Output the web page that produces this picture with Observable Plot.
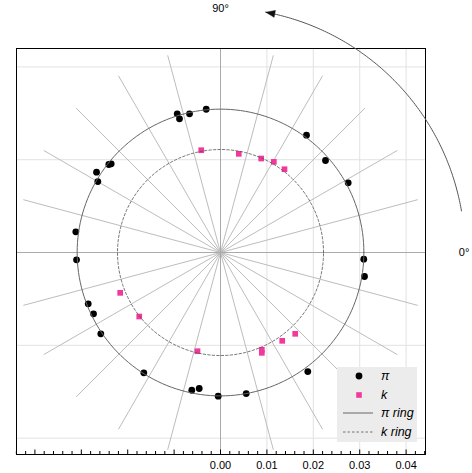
<!DOCTYPE html>
<html><head><meta charset="utf-8">
<script src="https://cdn.jsdelivr.net/npm/d3@7"></script>
<script src="https://cdn.jsdelivr.net/npm/@observablehq/plot@0.6"></script>
<style>
body{margin:0;background:#fff;}
#wrap{position:relative;width:472px;height:473px;}
#legend{position:absolute;left:337px;top:367px;width:80px;height:75px;background:#ececec;}
#legend svg{display:block;}
#legend text{font-family:"Liberation Sans",Arial,sans-serif;font-size:12.5px;font-style:italic;fill:#000;}
</style>
</head><body><div id="wrap"><div id="chart"></div><div id="legend"></div></div>
<script>
// π points (x, y)
const piX = [-0.00933,-0.00884,-0.00668,-0.00308,0.01853,0.02263,0.02752,-0.02407,-0.02356,-0.02672,-0.02644,-0.03119,-0.03103,-0.02851,-0.02737,-0.02580,-0.01653,-0.00619,-0.00459,-0.00050,0.00554,0.01881,0.03088,0.03103];
const piY = [0.02989,0.02881,0.02989,0.03088,0.02528,0.01983,0.01502,0.01897,0.01912,0.01731,0.01530,0.00446,-0.00157,-0.01106,-0.01321,-0.01752,-0.02593,-0.02968,-0.02931,-0.03097,-0.03039,-0.02565,-0.00144,-0.00517];
// k points (x, y)
const kX = [-0.00416,0.00394,0.00877,0.01149,0.01379,-0.02162,-0.01752,-0.00496,0.00890,0.00890,0.01330,0.01610];
const kY = [0.02205,0.02127,0.02026,0.01955,0.01795,-0.00869,-0.01379,-0.02127,-0.02097,-0.02162,-0.01903,-0.01752];
// rings
const piRing = 0.0309;
const kRing = 0.0222;
// spokes (degrees)
const spokeAngles = [15,30,45,60,75,105,120,135,150,165,195,210,225,240,255,285,300,315,330,345];
const spokeLength = 0.044;
// axes / grid
const xTickLabels = [0, 0.01, 0.02, 0.03, 0.04];
const xGrid = [0.01, 0.02, 0.03, 0.04];
const yGrid = [-0.04, -0.02, 0.02, 0.04];
const minorTicks = d3.range(-22, 23).map(i => +(i * 0.002).toFixed(3));
// direction arrow & labels
const arcDeg = [9.8, 79.3];
const arcRadius = 0.0527;
const angleLabelDeg = [0, 90];
const angleLabelText = ["0°", "90°"];
const angleLabelRadius = 0.0525;

const W = 472, H = 473;
const mL = 16, mR = 47, mT = 48, mB = 19;
const xDomain = [-0.04397, 0.04418];
const yDomain = [-0.04353, 0.04397];
const ky = (H - mT - mB) / (yDomain[1] - yDomain[0]);
const kx = (W - mL - mR) / (xDomain[1] - xDomain[0]);

const rad = d => d * Math.PI / 180;
const pi = piX.map((x, i) => ({x, y: piY[i]}));
const k = kX.map((x, i) => ({x, y: kY[i]}));
const ring = r => d3.range(0, 361, 2).map(a => ({x: r * Math.cos(rad(a)), y: r * Math.sin(rad(a))}));
const spokes = spokeAngles.map(a => ({x2: spokeLength * Math.cos(rad(a)), y2: spokeLength * Math.sin(rad(a))}));
const arc = d3.range(arcDeg[0], arcDeg[1] + 0.01, 0.5).map(a => ({x: arcRadius * Math.cos(rad(a)), y: arcRadius * Math.sin(rad(a))}));
// arrowhead triangle at arc end (tip along CCW tangent)
const tA = rad(arcDeg[1]);
const tip = {x: arcRadius * Math.cos(tA), y: arcRadius * Math.sin(tA)};
const tan = {x: -Math.sin(tA), y: Math.cos(tA)}; // CCW tangent
const radial = {x: Math.cos(tA), y: Math.sin(tA)};
const headL = 9 / kx, headW = 3.5 / kx;
const base = {x: tip.x - headL * tan.x, y: tip.y - headL * tan.y};
const head = [
  {x: tip.x + headL * 0.0 * tan.x, y: tip.y},
  {x: base.x + headW * radial.x, y: base.y + headW * radial.y},
  {x: base.x - headW * radial.x, y: base.y - headW * radial.y},
  {x: tip.x, y: tip.y}
];
const angleLabels = angleLabelDeg.map((a, i) => ({x: angleLabelRadius * Math.cos(rad(a)), y: angleLabelRadius * Math.sin(rad(a)), text: angleLabelText[i]}));

const chart = Plot.plot({
  width: W, height: H,
  marginLeft: mL, marginRight: mR, marginTop: mT, marginBottom: mB,
  x: {domain: xDomain},
  y: {domain: yDomain, axis: null},
  style: {fontFamily: '"Liberation Sans", Arial, sans-serif', fontSize: "11px", background: "#fff", color: "#000", overflow: "visible"},
  marks: [
    Plot.ruleX(xGrid, {stroke: "#e2e2e2"}),
    Plot.ruleY(yGrid, {stroke: "#e2e2e2"}),
    Plot.link(spokes, {x1: 0, y1: 0, x2: "x2", y2: "y2", stroke: "#bdbdbd", strokeWidth: 1}),
    Plot.ruleX([0], {stroke: "#aaaaaa"}),
    Plot.ruleY([0], {stroke: "#aaaaaa"}),
    Plot.dot(pi, {x: "x", y: "y", r: 3.4, fill: "#000"}),
    Plot.dot(k, {x: "x", y: "y", symbol: "square", r: 3.2, fill: "#f2389b"}),
    Plot.line(ring(piRing), {x: "x", y: "y", stroke: "#666", strokeWidth: 1}),
    Plot.line(ring(kRing), {x: "x", y: "y", stroke: "#555", strokeWidth: 0.8, strokeDasharray: "2.5,2"}),
    Plot.ruleX(minorTicks, {x: d => d, y1: yDomain[0], y2: d => yDomain[0] + (Math.abs(Math.round(d * 100) - d * 100) < 1e-6 ? 4.5 : 3) / ky, stroke: "#000", strokeWidth: 1}),
    Plot.frame({stroke: "#000", strokeWidth: 1}),
    Plot.axisX(xTickLabels, {tickSize: 0, tickPadding: 7, tickFormat: d3.format(".2f"), fontSize: 11}),
    Plot.line(arc, {x: "x", y: "y", stroke: "#555", strokeWidth: 1}),
    Plot.line(head, {x: "x", y: "y", fill: "#111", stroke: "#111", strokeWidth: 0.5}),
    Plot.text(angleLabels, {x: "x", y: "y", text: "text", fontSize: 11, fill: "#000"})
  ]
});
document.getElementById("chart").appendChild(chart);

// legend
const legendItems = [
  {label: "π", kind: "dot"},
  {label: "k", kind: "square"},
  {label: "π ring", kind: "solid"},
  {label: "k ring", kind: "dashed"}
];
const lg = d3.select("#legend").append("svg").attr("width", 80).attr("height", 75);
const rowY = [9, 28, 46, 65];
legendItems.forEach((it, i) => {
  const y = rowY[i];
  if (it.kind === "dot") lg.append("circle").attr("cx", 22).attr("cy", y).attr("r", 3.4).attr("fill", "#000");
  if (it.kind === "square") lg.append("rect").attr("x", 19.2).attr("y", y - 2.8).attr("width", 5.6).attr("height", 5.6).attr("fill", "#f2389b");
  if (it.kind === "solid") lg.append("line").attr("x1", 6).attr("x2", 36).attr("y1", y).attr("y2", y).attr("stroke", "#666").attr("stroke-width", 1);
  if (it.kind === "dashed") lg.append("line").attr("x1", 6).attr("x2", 36).attr("y1", y).attr("y2", y).attr("stroke", "#555").attr("stroke-width", 0.8).attr("stroke-dasharray", "2.5,2");
  lg.append("text").attr("x", 44).attr("y", y).attr("dominant-baseline", "central").text(it.label);
});
</script>
</body></html>
